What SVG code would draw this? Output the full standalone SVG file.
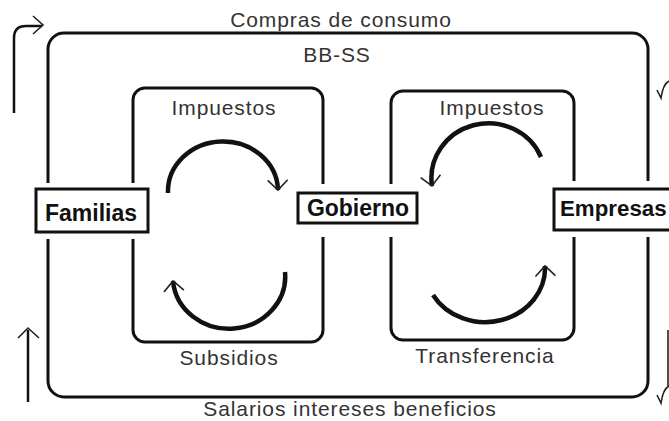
<svg xmlns="http://www.w3.org/2000/svg" width="669" height="421" viewBox="0 0 669 421">
<style>
.frame{fill:none;stroke:#111;stroke-width:3}
.lbl{font-family:"Liberation Sans",Arial,sans-serif;font-size:21px;letter-spacing:0.9px;fill:#333;text-anchor:middle}
.nbox{fill:#fff;stroke:#111;stroke-width:3}
.gap{fill:#fff;stroke:none}
.ntxt{font-family:"Liberation Sans",Arial,sans-serif;font-size:23px;font-weight:bold;fill:#111;text-anchor:middle}
.arc{fill:none;stroke:#111;stroke-width:4.5;marker-end:url(#v)}
.side{fill:none;stroke:#111;stroke-width:2.5}
.head{fill:none;stroke:#222;stroke-width:1.6}
</style>
<defs>
<marker id="v" markerUnits="userSpaceOnUse" markerWidth="24" markerHeight="24" viewBox="-12 -12 24 24" refX="0" refY="0" orient="auto">
<path d="M-10,-10 L0,0 L-10,10" fill="none" stroke="#222" stroke-width="1.6"/>
</marker>
</defs>
<rect width="669" height="421" fill="#fff"/>
<g id="frames">
<rect class="frame" x="48" y="33" width="600" height="364" rx="16"/>
<rect class="frame" x="133" y="88" width="190" height="254" rx="12"/>
<rect class="frame" x="391" y="91" width="183" height="249" rx="12"/>
</g>
<g id="labels">
<text class="lbl" x="341" y="27">Compras de consumo</text>
<text class="lbl" x="337" y="62">BB-SS</text>
<text class="lbl" x="224" y="115">Impuestos</text>
<text class="lbl" x="492" y="115">Impuestos</text>
<text class="lbl" x="229" y="365">Subsidios</text>
<text class="lbl" x="485" y="363">Transferencia</text>
<text class="lbl" x="350" y="416">Salarios intereses beneficios</text>
</g>
<g id="connectors">
<path class="arc" d="M168,193 A55,50 0 0 1 278,190"/>
<path class="arc" d="M285,272 A56,52 0 0 1 173,281"/>
<path class="arc" d="M541,157 A57,55 0 0 0 432,186"/>
<path class="arc" d="M433,295 A60,54 0 0 0 545,266"/>
<path class="side" d="M14,113 L14,38 Q14,26 26,26 L42,26"/>
<path class="head" d="M33,16 L43,25 L33,34"/>
<path class="side" d="M28,402 L28,330"/>
<path class="head" d="M18,338 L28,328 L39,338"/>
<path class="head" d="M657,90 L661,98 Q663,84 669,81"/>
<path class="head" d="M657,395 L661,403 Q663,389 669,386"/>
<path class="head" d="M668,330 L668,386"/>
</g>
<g id="familias">
<rect class="gap" x="35" y="183" width="113" height="56"/>
<rect class="nbox" x="36" y="189" width="112" height="43"/>
<text class="ntxt" x="91" y="221">Familias</text>
</g>
<g id="gobierno">
<rect class="gap" x="297" y="184" width="121" height="53"/>
<rect class="nbox" x="298" y="193" width="119" height="30"/>
<text class="ntxt" x="358" y="216">Gobierno</text>
</g>
<g id="empresas">
<rect class="gap" x="552" y="181" width="130" height="56"/>
<rect class="nbox" x="554" y="189" width="130" height="41"/>
<text class="ntxt" x="560" y="216" style="text-anchor:start;font-size:22.3px">Empresas</text>
</g>
</svg>
